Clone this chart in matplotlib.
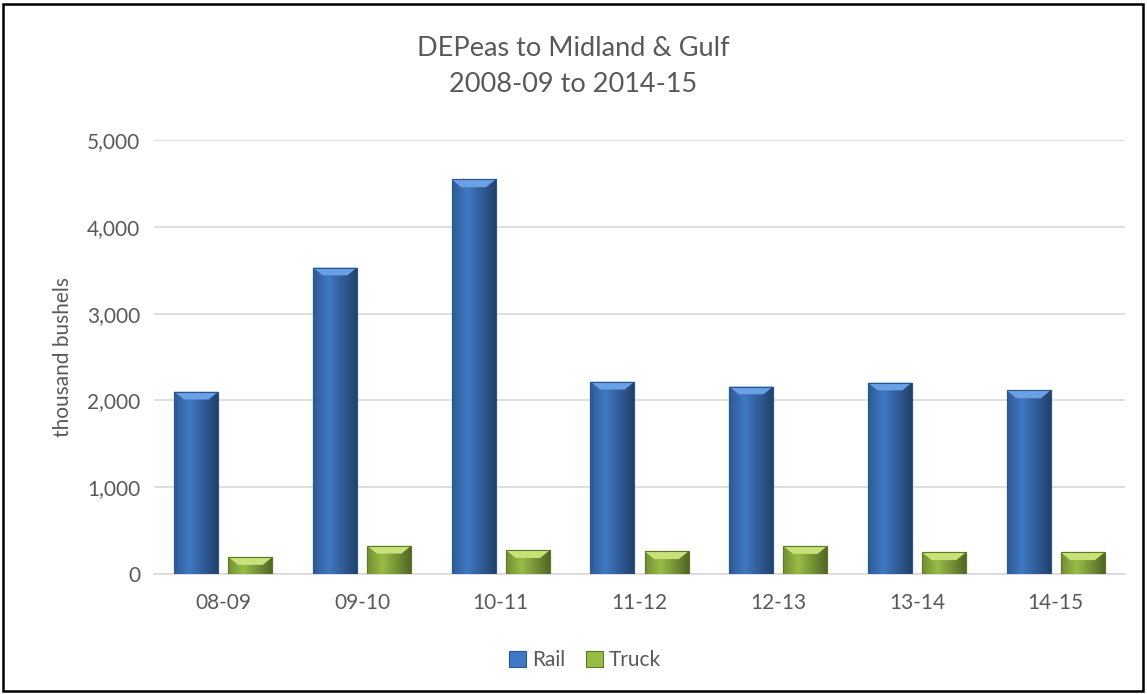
import matplotlib.pyplot as plt
import numpy as np
from matplotlib.colors import to_rgb
from matplotlib.patches import Rectangle, Polygon
from matplotlib.ticker import FuncFormatter, MultipleLocator

seasons = ['08-09', '09-10', '10-11', '11-12', '12-13', '13-14', '14-15']
rail = [2100, 3530, 4545, 2215, 2160, 2205, 2115]
truck = [195, 325, 275, 262, 322, 250, 250]

plt.rcParams['font.family'] = ['Lato', 'DejaVu Sans']

W, H = 1147, 694
fig = plt.figure(figsize=(W / 100, H / 100), dpi=100)
ax = fig.add_axes([154 / W, 1 - 574 / H, (1125 - 154) / W, (574 - 140) / H])

x = np.arange(len(seasons))
bw = 0.317
off = 0.195


def bevel_bars(xs, vals, base, light, dark, label):
    bars = ax.bar(xs, vals, bw, color=base, edgecolor=dark, linewidth=0.8,
                  label=label, zorder=3)
    # horizontal shading inside each bar
    grad = np.linspace(0, 1, 64)
    shade = 1 - 0.35 * np.abs(grad - 0.35) * 2
    rgb = np.array(to_rgb(base))
    for b in bars:
        x0, w, h = b.get_x(), b.get_width(), b.get_height()
        img = np.outer(np.ones(2), shade)
        cols = np.clip(rgb[None, None, :] * img[:, :, None], 0, 1)
        im = ax.imshow(cols, extent=(x0, x0 + w, 0, h), aspect='auto',
                       zorder=3.5, interpolation='bilinear')
        im.set_clip_path(b)
        # light top bevel
        d = 0.07
        dh = 90
        top = Polygon([(x0, h), (x0 + w, h), (x0 + w - d, h - dh), (x0 + d, h - dh)],
                      closed=True, facecolor=light, edgecolor='none', zorder=4)
        ax.add_patch(top)
        ax.add_patch(Rectangle((x0, 0), w, h, fill=False, edgecolor=dark,
                               linewidth=0.8, zorder=5))
    return bars


bevel_bars(x - off, rail, '#3f78c4', '#6aa0e6', '#2a5590', 'Rail')
bevel_bars(x + off, truck, '#98bd45', '#c8e27a', '#5d7a24', 'Truck')

ax.set_xlim(-0.5, len(seasons) - 0.5)
ax.set_ylim(0, 5000)
ax.yaxis.set_major_locator(MultipleLocator(1000))
ax.yaxis.set_major_formatter(FuncFormatter(lambda v, p: f'{int(v):,}'))
ax.set_xticks(x)
ax.set_xticklabels(seasons)
ax.grid(axis='y', color='#d9d9d9', linewidth=1.2, zorder=0)
ax.set_axisbelow(True)
for s in ['top', 'right', 'left']:
    ax.spines[s].set_visible(False)
ax.spines['bottom'].set_color('#d9d9d9')
ax.spines['bottom'].set_linewidth(1.2)
ax.tick_params(axis='both', length=0, labelsize=15, colors='#595959', pad=10)
ax.tick_params(axis='x', pad=14)
ax.set_ylabel('thousand bushels', fontsize=15, color='#595959', labelpad=10)

fig.text(0.5, 1 - 48 / H, 'DEPeas to Midland & Gulf', ha='center', va='center',
         fontsize=19.5, color='#595959')
fig.text(0.5, 1 - 85 / H, '2008-09 to 2014-15', ha='center', va='center',
         fontsize=19.5, color='#595959')

leg = fig.legend(loc='center', bbox_to_anchor=(585 / W, 1 - 660 / H), ncol=2,
                 frameon=False, fontsize=15, handlelength=0.8, handleheight=0.8,
                 handletextpad=0.3, columnspacing=1.0)
for t in leg.get_texts():
    t.set_color('#595959')

fig.add_artist(Rectangle((3 / W, 3 / H), 1 - 7 / W, 1 - 7 / H, transform=fig.transFigure,
                         fill=False, edgecolor='black', linewidth=1.8))

fig.savefig('out.png', dpi=100)
